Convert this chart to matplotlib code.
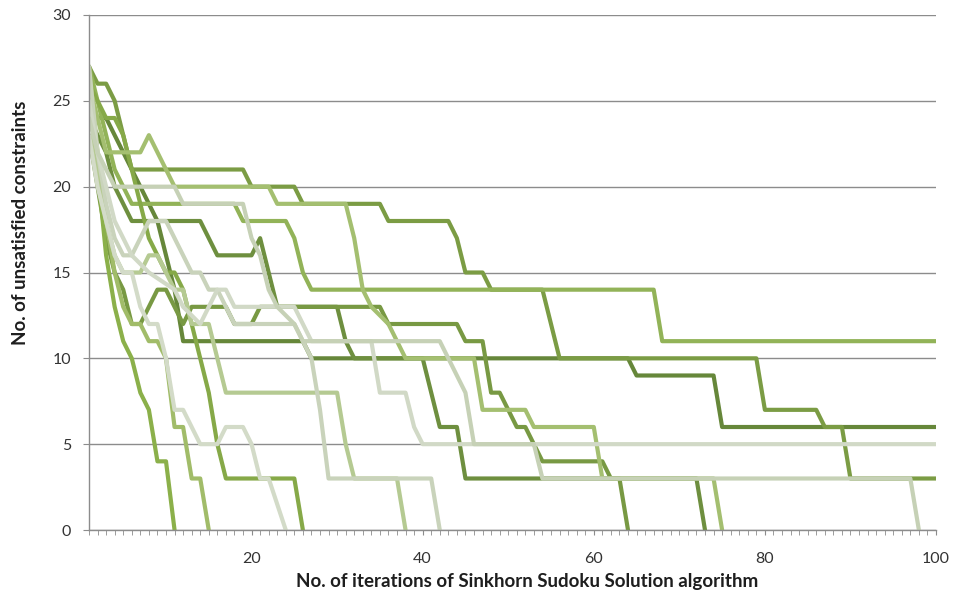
import matplotlib
matplotlib.use("Agg")
import matplotlib.pyplot as plt
from matplotlib.ticker import MultipleLocator, FixedLocator

# vertices of each run (iteration, unsatisfied constraints)
run_a_x = [1, 2, 3, 4, 5, 6, 18, 19, 24, 25, 26, 27, 67, 68, 100]
run_a_y = [27, 25, 23, 21, 20, 19, 19, 18, 18, 17, 15, 14, 14, 11, 11]

run_b_x = [1, 2, 3, 4, 5, 6, 7, 8, 9, 10, 11, 12, 26, 27, 64, 65, 74, 75, 100]
run_b_y = [25, 24, 24, 23, 22, 21, 20, 19, 18, 16, 14, 11, 11, 10, 10, 9, 9, 6, 6]

run_c_x = [1, 2, 3, 4, 5, 6, 19, 20, 25, 26, 35, 36, 43, 44, 45, 47, 48, 54, 55, 56,
           79, 80, 86, 87, 89, 90, 100]
run_c_y = [27, 26, 26, 25, 23, 21, 21, 20, 20, 19, 19, 18, 18, 17, 15, 15, 14, 14, 12, 10,
           10, 7, 7, 6, 6, 3, 3]

run_d_x = [1, 2, 3, 4, 5, 6, 8, 11, 12, 14, 15, 16, 17, 18, 25, 26, 27, 34, 35, 38, 39, 40, 100]
run_d_y = [25, 22, 20, 18, 17, 16, 15, 14, 13, 12, 13, 14, 14, 13, 13, 12, 11, 11, 8, 8, 6, 5, 5]

run_e_x = [1, 2, 3, 4, 5, 11, 12, 19, 20, 21, 22, 23, 25, 26, 42, 43, 44, 45, 46, 53, 54, 97, 98]
run_e_y = [24, 22, 21, 20, 20, 20, 19, 19, 17, 16, 14, 13, 12, 11, 11, 10, 9, 8, 5, 5, 3, 3, 0]

run_f_x = [1, 2, 3, 4, 5, 6, 14, 15, 16, 20, 21, 22, 23, 30, 31, 32, 40, 41, 42, 44, 45, 72, 73]
run_f_y = [24, 23, 22, 20, 19, 18, 18, 17, 16, 16, 17, 15, 13, 13, 11, 10, 10, 8, 6, 6, 3, 3, 0]

run_g_x = [1, 2, 3, 7, 8, 9, 10, 11, 22, 23, 31, 32, 33, 34, 36, 37, 38, 46, 47, 52, 53,
           60, 61, 74, 75]
run_g_y = [26, 24, 22, 22, 23, 22, 21, 20, 20, 19, 19, 17, 14, 13, 12, 11, 10, 10, 7, 7, 6,
           6, 3, 3, 0]

run_h_x = [1, 2, 3, 4, 5, 6, 7, 8, 9, 10, 11, 12, 13, 17, 18, 20, 21, 35, 36, 44, 45, 47,
           48, 49, 50, 51, 52, 53, 54, 61, 62, 63, 64]
run_h_y = [23, 20, 17, 15, 14, 12, 12, 13, 14, 14, 13, 12, 13, 13, 12, 12, 13, 13, 12, 12, 11, 11,
           8, 8, 7, 6, 6, 5, 4, 4, 3, 3, 0]

run_i_x = [1, 2, 3, 4, 5, 7, 8, 9, 10, 11, 12, 13, 15, 16, 17, 30, 31, 32, 37, 38]
run_i_y = [25, 21, 18, 16, 15, 15, 16, 16, 15, 14, 14, 12, 12, 10, 8, 8, 5, 3, 3, 0]

run_j_x = [1, 2, 3, 4, 5, 6, 7, 8, 10, 11, 12, 13, 14, 15, 16, 17, 18, 25, 26, 27, 28, 29, 41, 42]
run_j_y = [27, 22, 19, 17, 16, 16, 17, 18, 18, 17, 16, 15, 15, 14, 14, 13, 12, 12, 11, 10, 7, 3, 3, 0]

run_k_x = [1, 2, 3, 4, 5, 6, 7, 8, 9, 10, 11]
run_k_y = [26, 21, 16, 13, 11, 10, 8, 7, 4, 4, 0]

run_l_x = [1, 2, 3, 4, 5, 6, 7, 8, 9, 10, 11, 12, 13, 14, 15]
run_l_y = [27, 22, 18, 15, 13, 12, 12, 11, 11, 10, 6, 6, 3, 3, 0]

run_m_x = [1, 2, 3, 4, 5, 6, 7, 8, 9, 10, 11, 12, 13, 14, 16, 17, 19, 20, 21, 22, 24]
run_m_y = [23, 20, 18, 16, 15, 15, 13, 12, 12, 10, 7, 7, 6, 5, 5, 6, 6, 5, 3, 3, 0]

run_n_x = [1, 2, 3, 4, 5, 6, 7, 8, 9, 10, 11, 12, 13, 14, 15, 16, 17, 25, 26]
run_n_y = [26, 25, 24, 24, 23, 21, 19, 17, 16, 15, 15, 14, 12, 10, 8, 5, 3, 3, 0]

x_ticks = [20, 40, 60, 80, 100]
y_ticks = [0, 5, 10, 15, 20, 25, 30]

# drawing order, later ones on top
runs = [
    (run_b_x, run_b_y, "#66873a"),
    (run_f_x, run_f_y, "#6e8f3f"),
    (run_c_x, run_c_y, "#7b9c44"),
    (run_h_x, run_h_y, "#789943"),
    (run_a_x, run_a_y, "#92b358"),
    (run_k_x, run_k_y, "#8bb04a"),
    (run_n_x, run_n_y, "#86a948"),
    (run_g_x, run_g_y, "#a4bf70"),
    (run_l_x, run_l_y, "#a1bc69"),
    (run_i_x, run_i_y, "#b5ca92"),
    (run_m_x, run_m_y, "#d3dbc8"),
    (run_j_x, run_j_y, "#c9d3bb"),
    (run_d_x, run_d_y, "#d1d9c6"),
    (run_e_x, run_e_y, "#c6d1b6"),
]

plt.rcParams['font.family'] = ['Lato', 'DejaVu Sans']
fig = plt.figure(figsize=(9.55, 5.99), dpi=100)
ax = fig.add_axes([89 / 955, 1 - 530 / 599, 847 / 955, 515 / 599])

for xs, ys, col in runs:
    ax.plot(xs, ys, color=col, lw=3.0, solid_joinstyle='round', solid_capstyle='round')

ax.set_xlim(1, 100)
ax.set_ylim(0, 30)
ax.set_yticks(y_ticks)
ax.xaxis.set_major_locator(FixedLocator(x_ticks))
ax.xaxis.set_minor_locator(MultipleLocator(1))
ax.yaxis.grid(True, color="#8c8c8c", lw=1)
ax.set_axisbelow(True)

for side in ["top", "right"]:
    ax.spines[side].set_visible(False)
for side in ["left", "bottom"]:
    ax.spines[side].set_color("#8c8c8c")
    ax.spines[side].set_linewidth(1)

ax.tick_params(axis='x', which='both', direction='out', length=3.5, color="#8c8c8c",
               labelsize=11.5, labelcolor="#333333", pad=12)
ax.tick_params(axis='y', direction='out', length=4, color="#8c8c8c",
               labelsize=11.5, labelcolor="#333333", pad=9)

fig.text(0.021, 1 - 223 / 599, "No. of unsatisfied constraints", rotation=90,
         ha='center', va='center', fontsize=13.5, fontweight='bold', color="#1e1e1e")
fig.text(527 / 955, 1 - 582 / 599, "No. of iterations of Sinkhorn Sudoku Solution algorithm",
         ha='center', va='center', fontsize=13.5, fontweight='bold', color="#1e1e1e")

fig.savefig("out.png", dpi=100)
